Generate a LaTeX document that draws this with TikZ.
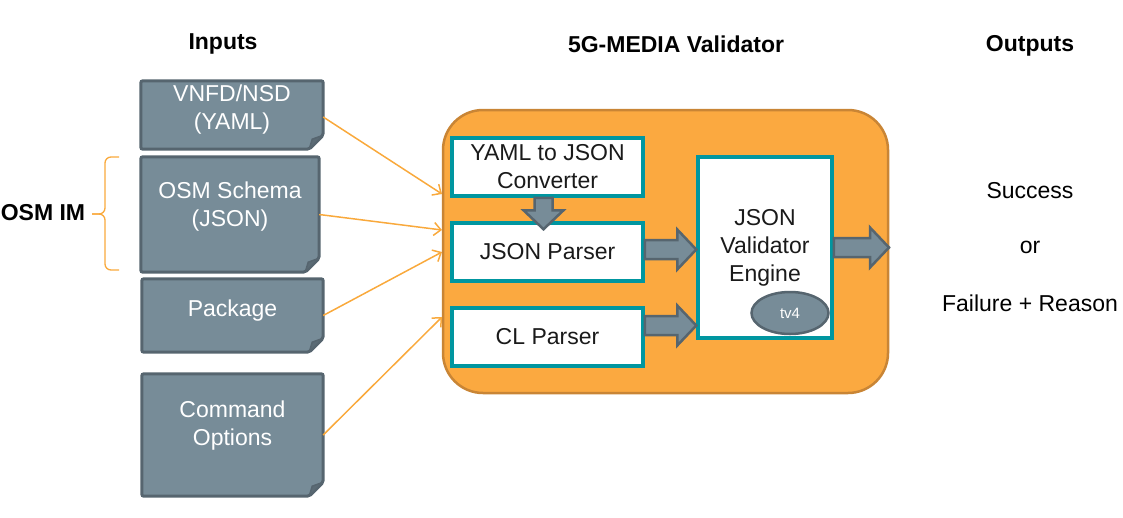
\documentclass[tikz,border=0pt]{standalone}
\usepackage{fontspec}
\setmainfont{Liberation Sans}
\usetikzlibrary{calc,arrows.meta,shapes.geometric,backgrounds}
\definecolor{docfill}{HTML}{778C98}
\definecolor{docline}{HTML}{56656F}
\definecolor{docfold}{HTML}{5B6B75}
\definecolor{orfill}{HTML}{FBA940}
\definecolor{orline}{HTML}{C98535}
\definecolor{tealb}{HTML}{0096A0}
\definecolor{thinor}{HTML}{F9A93C}
\definecolor{txtdark}{HTML}{1A1A1A}
\newcommand\dogear[1]{%
  \filldraw[docshape] (#1.north west) -- (#1.north east) -- ($(#1.south east)+(0,-14)$) -- ($(#1.south east)+(-14,0)$) -- (#1.south west) -- cycle;
  \filldraw[foldshape] ($(#1.south east)+(0,-14)$) -- ($(#1.south east)+(-14,0)$) -- ($(#1.south east)+(-11,-10)$) -- cycle;}
\newcommand\hblock[2]{%
  \filldraw[blockarr] ($(#1)+(0,-9.5)$) -- ($(#2)+(-19,-9.5)$) -- ($(#2)+(-19,-20)$) -- (#2) -- ($(#2)+(-19,20)$) -- ($(#2)+(-19,9.5)$) -- ($(#1)+(0,9.5)$) -- cycle;}
\newcommand\vblock[2]{%
  \filldraw[blockarr] ($(#1)+(-9,0)$) -- ($(#2)+(-9,-19)$) -- ($(#2)+(-20,-19)$) -- (#2) -- ($(#2)+(20,-19)$) -- ($(#2)+(9,-19)$) -- ($(#1)+(9,0)$) -- cycle;}
\begin{document}
\begin{tikzpicture}[x=1pt,y=-1pt,
  every node/.style={font=\fontsize{23}{28}\selectfont, inner sep=0pt},
  title/.style={font=\fontsize{23}{27}\selectfont\bfseries},
  docnode/.style={align=center, text=white},
  docshape/.style={fill=docfill, draw=docline, line width=3, rounded corners=2},
  foldshape/.style={fill=docfold, draw=docline, line width=1.5, line join=round},
  cont/.style={rectangle, rounded corners=40, fill=orfill, draw=orline, line width=2.5},
  tbox/.style={rectangle, fill=white, draw=tealb, line width=3.5, align=center, text=txtdark},
  blockarr/.style={fill=docfill, draw=docline, line width=2.5, line join=miter},
  thinarr/.style={draw=thinor, line width=1.5, -{Straight Barb[length=7,width=13,line width=1.5]}},
  bracec/.style={draw=thinor, line width=1.3, rounded corners=6},
  outtxt/.style={text=black}
]
\useasboundingbox (0,0) rectangle (1123,517);

% titles
\node[title] (tin) at (223,44) {Inputs};
\node[title] (tval) at (676,44) {5G-MEDIA Validator};
\node[title] (tout) at (1030,46) {Outputs};

% input documents
\node[docnode, minimum width=182, minimum height=68, text depth=16] (vnfd) at (232,115) {VNFD/NSD\\(YAML)};
\node[docnode, minimum width=178, minimum height=115, text depth=20] (osm) at (230,214.5) {OSM Schema\\(JSON)};
\node[docnode, minimum width=181, minimum height=73, text depth=15] (pkg) at (232.5,315.5) {Package};
\node[docnode, minimum width=181, minimum height=122, text depth=24] (cmd) at (232.5,435) {Command\\Options};
\begin{scope}[on background layer]
  \dogear{vnfd}
  \dogear{osm}
  \dogear{pkg}
  \dogear{cmd}
\end{scope}

% OSM IM brace
\node[title] (osmim) at (43,213) {OSM IM};
\draw[bracec] (119,157) -- (105,157) -- (105,214) -- (92,214);
\draw[bracec] (119,270) -- (105,270) -- (105,214) -- (92,214);

% validator container
\node[cont, minimum width=445, minimum height=283] (cont) at (665.5,251.5) {};
\node[tbox, minimum width=191, minimum height=58] (yaml) at (547.5,167) {YAML to JSON\\Converter};
\node[tbox, minimum width=191, minimum height=58] (jsonp) at (547.5,252) {JSON Parser};
\node[tbox, minimum width=191, minimum height=58] (clp) at (547.5,337) {CL Parser};
\node[tbox, minimum width=134, minimum height=181] (valid) at (765,247.5) {JSON\\Validator\\Engine};
\node[ellipse, fill=docfill, draw=docline, line width=2.5, minimum width=77, minimum height=42, text=white, font=\fontsize{15}{18}\selectfont] (tv4) at (790,313) {tv4};

% block arrows
\vblock{$(yaml.south)+(-4,0)$}{$(jsonp.north)+(-4,8)$}
\hblock{$(jsonp.east)+(0,-2.5)$}{$(valid.west)+(0,2)$}
\hblock{$(clp.east)+(0,-11.5)$}{$(valid.west |- clp.east)+(0,-11.5)$}
\coordinate (outp) at (889,247.5);
\hblock{valid.east}{outp}

% thin input arrows
\coordinate (t1) at (442,194);
\coordinate (t2) at (442,230);
\coordinate (t3) at (442,252);
\coordinate (t4) at (442,317);
\draw[thinarr] ($(vnfd.east)+(0,2)$) -- (t1);
\draw[thinarr] (osm.east) -- (t2);
\draw[thinarr] (pkg.east) -- (t3);
\draw[thinarr] (cmd.east) -- (t4);

% outputs
\node[outtxt] (succ) at (1030,191) {Success};
\node[outtxt] (or) at (1030,247) {or};
\node[outtxt] (fail) at (1030,303) {Failure + Reason};
\end{tikzpicture}
\end{document}
